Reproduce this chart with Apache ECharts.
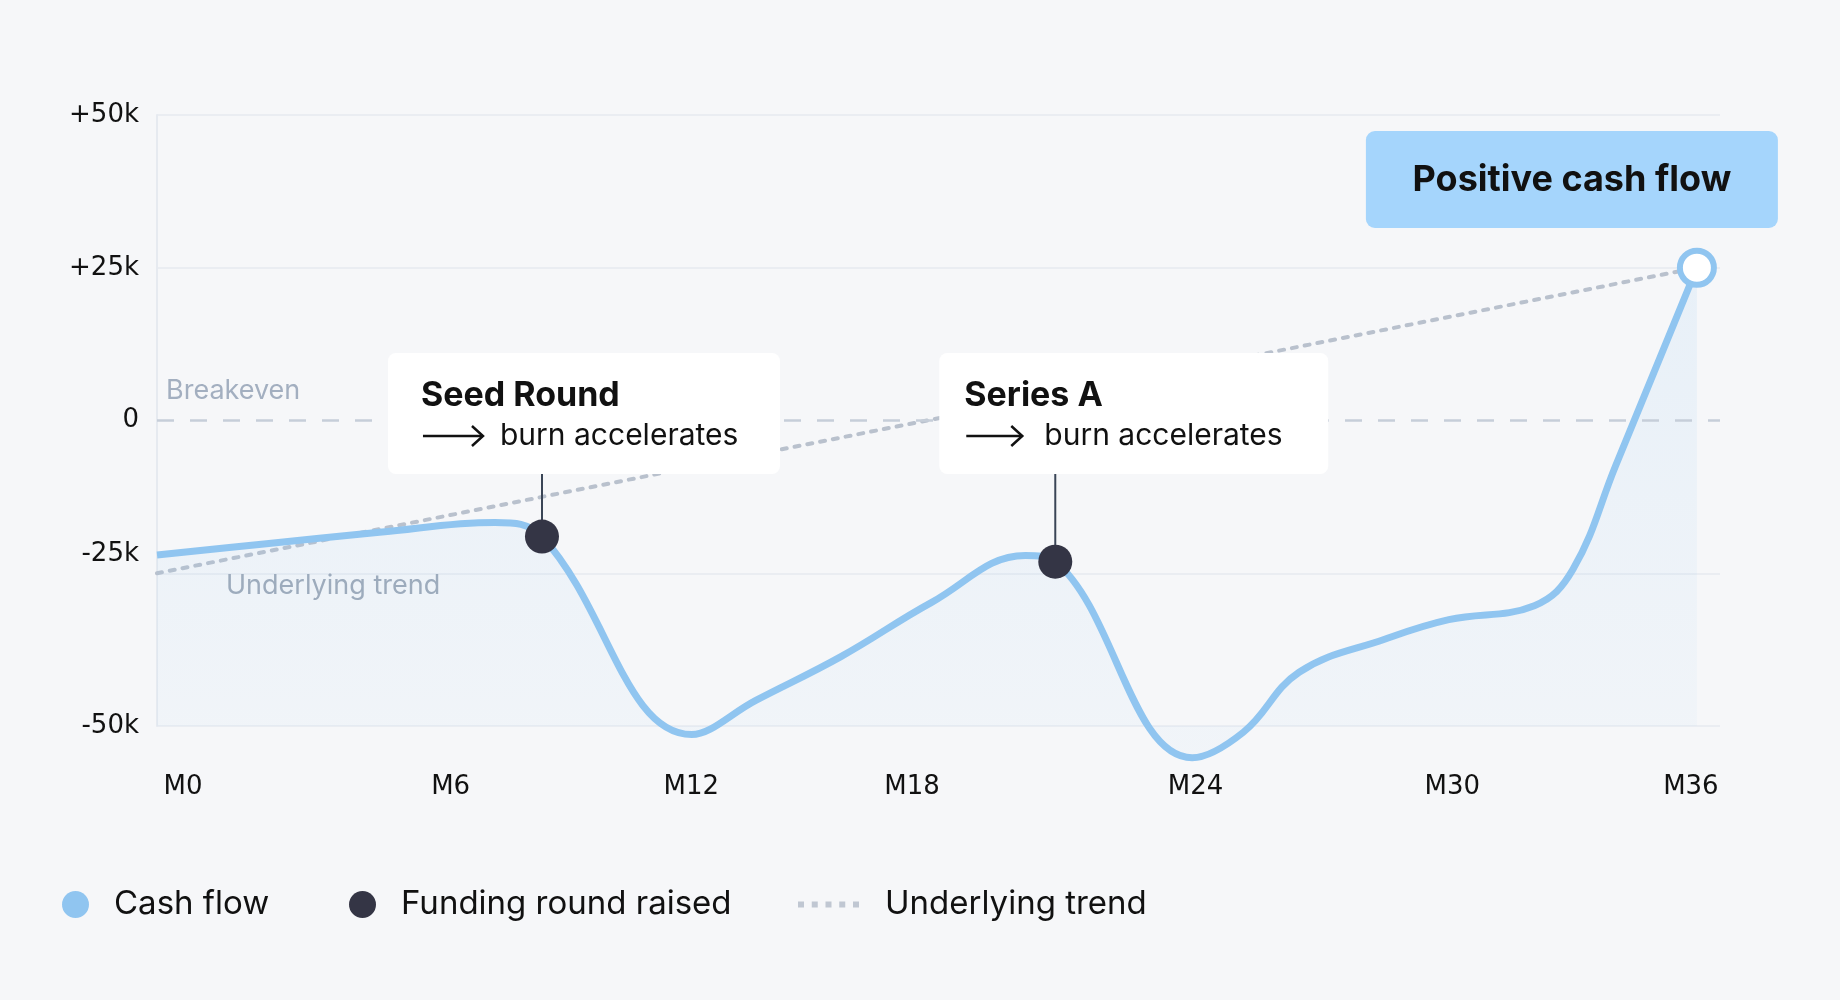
<!DOCTYPE html>
<html>
<head>
<meta charset="utf-8">
<title>Cash flow</title>
<script src="https://cdn.jsdelivr.net/npm/echarts@6/dist/echarts.min.js"></script>
<style>
  html, body { margin: 0; padding: 0; background: #f6f7f9; }
  #chart { width: 1840px; height: 1000px; }
</style>
</head>
<body>
<div id="chart"></div>
<script>
// cash flow (month, value in thousands)
const months = [0, 2.5, 5.2, 7.9, 9, 12.5, 14, 16, 18.1, 20.3, 21, 24.2, 25.4,
  26.7, 28.7, 30.2, 32.2, 33.1, 34.1, 36]
const cashFlow = [-22, -20.2, -18.3, -16.7, -19, -51.4, -45.8, -38.6, -29.8, -22.1, -23.1,
  -55.2, -51, -41.2, -35.8, -32.6, -30.3, -24.4, -7.4, 25]
const fundingMonths = [9, 21]
const fundingValues = [-19, -23.1]
const fundingNames = ['Seed Round', 'Series A']
const trendMonths = [0, 36]
const trendValues = [-25, 25]
const xLabels = ['M0', 'M6', 'M12', 'M18', 'M24', 'M30', 'M36']
const yTicks = [-50, -25, 0, 25, 50]

const FONT = 'Inter'
const TICK_FONT = 'DejaVu Sans'
const BLUE = '#90c5f0'
const NAVY = '#343545'
// small label nudges seen in the picture
const xNudge = [26, 37, 21, -15, 12, 12, -6]

let xRich = {}
xNudge.forEach((d, i) => {
  xRich['x' + i] = {
    fontFamily: TICK_FONT, fontSize: 26, color: '#111',
    padding: d >= 0 ? [0, 0, 0, 2 * d] : [0, -2 * d, 0, 0]
  }
})

let cashData = months.map((m, i) => {
  if (i === months.length - 1) {
    return {
      value: [m, cashFlow[i]],
      symbol: 'circle',
      symbolSize: 34,
      itemStyle: { color: '#ffffff', borderColor: BLUE, borderWidth: 6 }
    }
  }
  return [m, cashFlow[i]]
})

let chart = echarts.init(document.getElementById('chart'))
let option = {
  backgroundColor: '#f6f7f9',
  animation: false,
  textStyle: { fontFamily: FONT },
  grid: { left: 157, right: 120, top: 115, bottom: 274 },
  xAxis: {
    type: 'value',
    min: 0,
    max: 36.54,
    interval: 6,
    axisLine: { show: false },
    axisTick: { show: false },
    splitLine: { show: false },
    axisLabel: {
      margin: 48,
      rich: xRich,
      formatter: function (v) {
        let i = Math.round(v / 6)
        if (Math.abs(v - i * 6) > 0.01 || i >= xLabels.length) return ''
        return '{x' + i + '|' + xLabels[i] + '}'
      }
    }
  },
  yAxis: {
    type: 'value',
    min: yTicks[0],
    max: yTicks[yTicks.length - 1],
    interval: 25,
    axisLine: { show: true, lineStyle: { color: '#e6eaf0', width: 2 } },
    axisTick: { show: false },
    splitLine: {
      lineStyle: {
        color: yTicks.map(v => v === 0 ? 'rgba(0,0,0,0)' : '#eaedf2'),
        width: 2
      }
    },
    axisLabel: {
      margin: 18,
      rich: {
        n: { fontFamily: TICK_FONT, fontSize: 26, color: '#111' },
        up: { fontFamily: TICK_FONT, fontSize: 26, color: '#111', padding: [0, 0, 38, 0] }
      },
      formatter: function (v) {
        let s = v > 0 ? '+' + v + 'k' : (v === 0 ? '0' : v + 'k')
        return v === -25 ? '{up|' + s + '}' : '{n|' + s + '}'
      }
    }
  },
  legend: [
    {
      left: 62, top: 888, padding: 0,
      itemWidth: 61, itemHeight: 27,
      data: [{ name: 'Cash flow', icon: 'circle' }],
      textStyle: { fontFamily: FONT, fontSize: 33, color: '#111', padding: [0, 0, 0, 3] }
    },
    {
      left: 349, top: 888, padding: 0,
      itemWidth: 61, itemHeight: 27,
      data: [{ name: 'Funding round raised', icon: 'circle' }],
      textStyle: { fontFamily: FONT, fontSize: 33, color: '#111', padding: [0, 0, 0, 3] }
    },
    {
      left: 798, top: 888, padding: 0,
      itemWidth: 61, itemHeight: 6,
      data: [{
        name: 'Underlying trend',
        icon: 'path://M0 0h6v6H0z M13.75 0h6v6h-6z M27.5 0h6v6h-6z M41.25 0h6v6h-6z M55 0h6v6h-6z'
      }],
      textStyle: { fontFamily: FONT, fontSize: 33, color: '#111', padding: [0, 0, 0, 21] }
    }
  ],
  series: [
    {
      name: 'Underlying trend',
      type: 'line',
      data: trendMonths.map((m, i) => [m, trendValues[i]]),
      symbol: 'none',
      z: 1,
      lineStyle: { color: '#b9c1cd', width: 4, type: [5, 8], cap: 'round' },
      itemStyle: { color: '#c0c7d2' },
      markLine: {
        silent: true,
        symbol: 'none',
        lineStyle: { color: '#c6ced9', width: 2.5, type: [17, 16] },
        label: {
          show: true,
          position: 'insideStartTop',
          distance: [9, 16],
          formatter: 'Breakeven',
          fontFamily: FONT,
          fontSize: 27,
          color: '#a3afc0'
        },
        data: [{ yAxis: 0 }]
      }
    },
    {
      name: 'Cash flow',
      type: 'line',
      data: cashData,
      smooth: 0.4,
      symbol: 'none',
      clip: false,
      z: 3,
      lineStyle: { color: BLUE, width: 7 },
      itemStyle: { color: BLUE },
      areaStyle: {
        origin: 'start',
        color: new echarts.graphic.LinearGradient(0, 0, 0, 1, [
          { offset: 0, color: 'rgba(144,197,240,0.2)' },
          { offset: 1, color: 'rgba(144,197,240,0.07)' }
        ])
      }
    },
    {
      name: 'Funding round raised',
      type: 'scatter',
      data: fundingMonths.map((m, i) => [m, fundingValues[i]]),
      symbolSize: 34,
      z: 5,
      itemStyle: { color: NAVY, opacity: 1 }
    }
  ]
}
chart.setOption(option)

// annotation boxes placed from the data positions
function arrow (x, y, w) {
  return [
    { type: 'line', z: 7, shape: { x1: x, y1: y, x2: x + w, y2: y }, style: { stroke: '#111', lineWidth: 2.5 } },
    { type: 'polyline', z: 7, shape: { points: [[x + w - 11, y - 10], [x + w, y], [x + w - 11, y + 10]] },
      style: { stroke: '#111', lineWidth: 2.5, fill: null } }
  ]
}

function callout (name, dot, boxLeft, boxW, pad, arrowW, textGap) {
  let top = 353
  let h = 121
  return [
    { type: 'line', z: 4, shape: { x1: dot[0], y1: top + h, x2: dot[0], y2: dot[1] - 10 },
      style: { stroke: '#3a4556', lineWidth: 2 } },
    { type: 'rect', z: 6, shape: { x: boxLeft, y: top, width: boxW, height: h, r: 8 },
      style: { fill: '#ffffff' } },
    { type: 'text', z: 7, x: boxLeft + pad, y: top + 43,
      style: { text: name, font: 'bold 34px ' + FONT, fill: '#111', textVerticalAlign: 'middle' } }
  ].concat(arrow(boxLeft + pad + 2, top + 83, arrowW)).concat([
    { type: 'text', z: 7, x: boxLeft + pad + arrowW + textGap, y: top + 83,
      style: { text: 'burn accelerates', font: '30px ' + FONT, fill: '#111', textVerticalAlign: 'middle' } }
  ])
}

let d0 = chart.convertToPixel({ gridIndex: 0 }, [fundingMonths[0], fundingValues[0]])
let d1 = chart.convertToPixel({ gridIndex: 0 }, [fundingMonths[1], fundingValues[1]])
let endPt = chart.convertToPixel({ gridIndex: 0 }, [months[months.length - 1], cashFlow[cashFlow.length - 1]])
let trendStart = chart.convertToPixel({ gridIndex: 0 }, [trendMonths[0], trendValues[0]])

let graphics = []
  .concat(callout(fundingNames[0], d0, d0[0] - 154, 392, 33, 60, 19))
  .concat(callout(fundingNames[1], d1, d1[0] - 116, 389, 25, 56, 24))
  .concat([
    { type: 'rect', z: 6, shape: { x: endPt[0] - 331, y: 131, width: 412, height: 97, r: 9 },
      style: { fill: '#a5d5fc' } },
    { type: 'text', z: 7, x: endPt[0] - 125, y: 180,
      style: { text: 'Positive cash flow', font: 'bold 36px ' + FONT, fill: '#111',
        textAlign: 'center', textVerticalAlign: 'middle' } },
    { type: 'text', z: 2, x: trendStart[0] + 69, y: trendStart[1] + 13,
      style: { text: 'Underlying trend', font: '27px ' + FONT, fill: '#9ea9b8', textVerticalAlign: 'middle' } }
  ])

chart.setOption({ graphic: graphics })

window.onresize = function () {
  chart.resize()
}
</script>
</body>
</html>
